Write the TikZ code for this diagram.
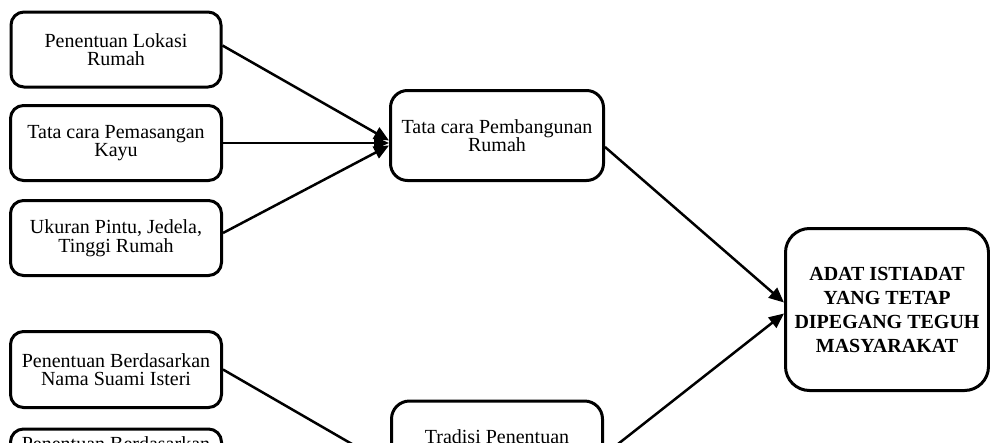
\documentclass[tikz,border=0pt]{standalone}
\usepackage{fontspec}
\setmainfont{Liberation Serif}
\usetikzlibrary{arrows.meta,calc}
\begin{document}
\begin{tikzpicture}[x=1pt,y=-1pt,
  box/.style={draw, line width=3pt, rounded corners=13pt, inner sep=0pt, align=center, font=\fontsize{20}{18.5}\selectfont},
  txt/.style={inner sep=0pt, font=\fontsize{20}{18.5}\selectfont},
  conn/.style={line width=2.5pt, -{Triangle[length=15pt,width=13pt]}}]
\useasboundingbox (0,0) rectangle (990,442);
\clip (0,0) rectangle (990,442);
\node[box, minimum width=210, minimum height=75] (b1) at (116,49.5) {Penentuan Lokasi\\Rumah};
\node[box, minimum width=211, minimum height=75] (b2) at (116,143) {Tata cara Pemasangan\\Kayu};
\node[box, minimum width=211, minimum height=75] (b3) at (116,238) {Ukuran Pintu, Jedela,\\Tinggi Rumah};
\node[box, minimum width=211, minimum height=76] (b4) at (116,369.5) {Penentuan Berdasarkan\\Nama Suami Isteri};
\node[box, minimum width=211, minimum height=80, anchor=north] (b5) at (116,427.5) {};
\node[txt, anchor=north] (t5) at (116,436.5) {Penentuan Berdasarkan};
\node[box, rounded corners=17pt, minimum width=213, minimum height=90] (m1) at (497,135.5) {Tata cara Pembangunan\\Rumah};
\node[box, rounded corners=18pt, minimum width=211, minimum height=90, anchor=north] (T) at (497,399.5) {};
\node[txt, anchor=north] (tT) at (497,429.5) {Tradisi Penentuan};
\node[box, rounded corners=24pt, minimum width=203, minimum height=162, font=\bfseries\fontsize{20}{24}\selectfont] (R) at (887,309.5) {ADAT ISTIADAT\\YANG TETAP\\DIPEGANG TEGUH\\MASYARAKAT};
\draw[conn] ($(b1.east)+(0,-4)$) -- ($(m1.west)+(0,5)$);
\draw[conn] (b2.east) -- ($(m1.west)+(0,7.5)$);
\draw[conn] ($(b3.east)+(0,-5)$) -- ($(m1.west)+(0,10)$);
\draw[conn] ($(m1.east)+(0,11.5)$) -- ($(R.west)+(0,-7)$);
\draw[conn] ($(T.east)+(0,9)$) -- ($(R.west)+(0,4)$);
\draw[conn] (b4.east) -- ($(T.west)+(0,20)$);
\end{tikzpicture}
\end{document}
